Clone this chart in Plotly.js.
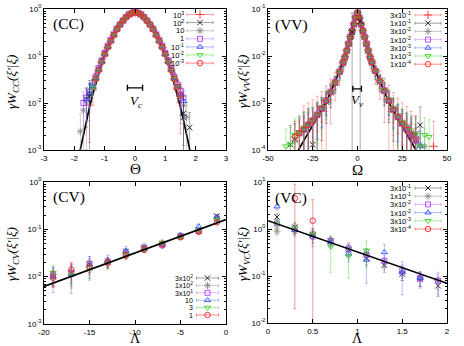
<!DOCTYPE html>
<html lang="en">
<head>
<meta charset="UTF-8">
<title>Transition densities CC / VV / CV / VC</title>
<script src="https://cdn.plot.ly/plotly-3.0.1.min.js"></script>
<style>
  html, body { margin: 0; padding: 0; background: #fff; }
  #chart { width: 464px; height: 346px; }
</style>
</head>
<body>
<div id="chart"></div>
<script>
// ---------- (CC) ----------
const thetaCC = [-1.8,-1.7,-1.6,-1.5,-1.4,-1.3,-1.2,-1.1,-1.0,-0.9,-0.8,-0.7,-0.6,-0.5,-0.4,-0.3,-0.2,-0.1,0,
                 0.1,0.2,0.3,0.4,0.5,0.6,0.7,0.8,0.9,1.0,1.1,1.2,1.3,1.4,1.5,1.6,1.7,1.8];
const cc_1e3  = [null,null,null,0.009,0.02,0.031,0.048,0.072,0.105,0.15,0.2,0.27,0.36,0.45,0.55,0.65,0.75,0.81,0.84,0.81,0.75,0.65,0.55,0.45,0.36,0.27,0.2,0.15,0.105,0.072,0.048,0.031,0.02,0.014,null,null,null];
const cc_1e2  = [null,null,0.012,0.016,0.023,0.034,0.052,0.078,0.112,0.158,0.215,0.285,0.375,0.465,0.565,0.67,0.77,0.83,0.86,0.83,0.77,0.67,0.565,0.465,0.375,0.285,0.215,0.158,0.112,0.078,0.052,0.034,0.022,0.014,0.005,null,0.003];
const cc_10   = [0.0025,0.007,0.01,0.015,0.021,0.032,0.05,0.074,0.108,0.152,0.205,0.275,0.365,0.455,0.555,0.655,0.755,0.815,0.845,0.815,0.755,0.655,0.555,0.455,0.365,0.275,0.205,0.152,0.108,0.074,0.05,0.032,0.021,0.013,0.009,0.005,null];
const cc_1    = [null,0.01,0.013,0.017,0.024,0.036,0.055,0.08,0.118,0.165,0.22,0.29,0.38,0.47,0.57,0.67,0.77,0.83,0.86,0.83,0.77,0.67,0.57,0.47,0.38,0.29,0.22,0.165,0.118,0.08,0.055,0.036,0.025,0.018,0.013,null,null];
const cc_1em1 = [null,null,0.012,0.016,0.023,0.034,0.051,0.076,0.11,0.155,0.21,0.28,0.37,0.46,0.56,0.66,0.76,0.82,0.85,0.82,0.76,0.66,0.56,0.46,0.37,0.28,0.21,0.155,0.11,0.076,0.051,0.034,0.023,0.016,0.011,null,null];
const cc_1em2 = [null,null,null,null,0.021,0.032,0.049,0.074,0.108,0.153,0.208,0.278,0.368,0.458,0.558,0.658,0.758,0.818,0.848,0.818,0.758,0.658,0.558,0.458,0.368,0.278,0.208,0.153,0.108,0.074,0.049,0.032,0.021,null,null,null,null];
const cc_1em3 = [null,null,null,null,null,0.033,0.05,0.075,0.11,0.155,0.21,0.28,0.37,0.46,0.56,0.66,0.76,0.82,0.85,0.82,0.76,0.66,0.56,0.46,0.37,0.28,0.21,0.155,0.11,0.075,0.05,0.033,0.022,0.015,null,null,null];
const ccRelErr = [1.1,0.9,0.75,0.6,0.35,0.28,0.22,0.18,0.14,0.12,0.1,0.09,0.08,0.07,0.06,0.06,0.05,0.05,0.05,
                  0.05,0.05,0.06,0.06,0.07,0.08,0.09,0.1,0.12,0.14,0.18,0.22,0.28,0.35,0.6,0.75,0.9,1.1];
const ccErrFactor = [1.4,1.0,1.2,0.8,0.9,0.8,0.7];
const ccLabels = ['10<sup>3</sup>','10<sup>2</sup>','10','1','10<sup>-1</sup>','10<sup>-2</sup>','10<sup>-3</sup>'];
const ccWideX = [-1.5, 1.6], ccWideY = [0.014, 0.006], ccWideErr = [0.016, 0.008];
const ccCurveX = [-1.85,-1.8,-1.7,-1.6,-1.5,-1.4,-1.3,-1.2,-1.1,-1.0,-0.9,-0.8,-0.7,-0.6,-0.5,-0.4,-0.3,-0.2,-0.1,0,
                  0.1,0.2,0.3,0.4,0.5,0.6,0.7,0.8,0.9,1.0,1.1,1.2,1.3,1.4,1.5,1.6,1.7,1.8,1.85];
const ccCurveY = [0.00074,0.00107,0.0022,0.0043,0.0081,0.0146,0.0254,0.0424,0.068,0.104,0.153,0.217,0.294,0.384,0.48,0.578,0.666,0.738,0.784,0.8,
                  0.784,0.738,0.666,0.578,0.48,0.384,0.294,0.217,0.153,0.104,0.068,0.0424,0.0254,0.0146,0.0081,0.0043,0.0022,0.00107,0.00074];
const vcBarX = [0], vcBarHalf = [0.25], vcBarY = [0.021];

// ---------- (VV) ----------
const omegaVV = [-40,-37.5,-35,-32.5,-30,-27.5,-25,-22.5,-20,-17.5,-15,-12.5,-10,-8,-7,-6,-5,-4,-3,-2,-1,0,
                 1,2,3,4,5,6,7,8,10,12.5,15,17.5,20,22.5,25,27.5,30,32.5,35,37.5,40,42.5];
const vv_3e1 = [null,null,null,null,2.9e-4,3.6e-4,4.5e-4,5.8e-4,8e-4,1.15e-3,1.8e-3,2.8e-3,4.8e-3,7.6e-3,9.8e-3,0.0135,0.019,0.026,0.035,0.049,0.067,0.084,0.066,0.048,0.035,0.026,0.019,0.0135,0.0098,0.0077,0.005,0.003,0.0019,0.0012,7.6e-4,5.3e-4,3.9e-4,3e-4,2.2e-4,1.8e-4,null,null,null,1.2e-4];
const vv_1e1 = [null,1.3e-4,1.7e-4,2.3e-4,2.8e-4,3.5e-4,1.3e-4,5.4e-4,7.3e-4,1.05e-3,1.65e-3,2.6e-3,4.5e-3,7.1e-3,9.2e-3,0.0128,0.018,0.025,0.033,0.046,0.064,0.081,0.064,0.046,0.033,0.025,0.018,0.0128,0.0092,0.0073,0.0047,0.0028,0.0018,0.0011,7e-4,4.9e-4,3.6e-4,2.8e-4,2.2e-4,2.2e-4,3.4e-4,null,null,null];
const vv_3e2 = [null,null,1.6e-4,2.1e-4,2.6e-4,3.3e-4,4.1e-4,5.5e-4,7.6e-4,1.1e-3,1.7e-3,2.7e-3,4.6e-3,7.4e-3,9.4e-3,0.013,0.018,0.025,0.034,0.047,0.065,0.083,0.065,0.047,0.034,0.025,0.018,0.013,0.0095,0.0075,0.0048,0.0029,0.0018,0.0011,7.3e-4,5.1e-4,3.7e-4,2.8e-4,2.1e-4,1.6e-4,1.3e-4,1.2e-4,null,null];
const vv_1e2 = [null,null,null,2.3e-4,2.8e-4,3.5e-4,4.3e-4,5.7e-4,7.8e-4,1.15e-3,1.75e-3,2.8e-3,4.7e-3,7.5e-3,9.6e-3,0.0132,0.0185,0.026,0.035,0.048,0.066,0.084,0.066,0.048,0.035,0.026,0.0185,0.0132,0.0096,0.0076,0.0049,0.003,0.0019,0.00115,7.5e-4,5.2e-4,3.8e-4,2.9e-4,2.2e-4,1.7e-4,null,null,null,null];
const vv_3e3 = [null,null,null,null,2.6e-4,3.3e-4,4.2e-4,5.5e-4,7.4e-4,1.08e-3,1.68e-3,2.65e-3,4.5e-3,7.2e-3,9.3e-3,0.0129,0.018,0.025,0.034,0.047,0.065,0.082,0.065,0.047,0.034,0.025,0.018,0.0129,0.0093,0.0074,0.0047,0.0029,0.0018,0.0011,7.1e-4,4.9e-4,3.6e-4,2.7e-4,2e-4,1.5e-4,1.2e-4,null,null,null];
const vv_1e3 = [1.2e-4,1.3e-4,2.1e-4,2.4e-4,3e-4,3.6e-4,4.4e-4,5.9e-4,8.1e-4,1.15e-3,1.75e-3,2.75e-3,4.7e-3,7.4e-3,9.5e-3,0.013,0.0182,0.0255,0.0345,0.0475,0.066,0.083,0.066,0.0475,0.0345,0.0255,0.0182,0.013,0.0095,0.0075,0.0049,0.003,0.0019,0.0012,7.8e-4,5.4e-4,4e-4,3.2e-4,2.6e-4,2.1e-4,1.2e-4,2.1e-4,1.9e-4,null];
const vv_1e4 = [null,null,1.9e-4,2.3e-4,2.7e-4,3.4e-4,4.2e-4,5.6e-4,7.6e-4,1.1e-3,1.7e-3,2.7e-3,4.6e-3,7.3e-3,9.4e-3,0.013,0.018,0.025,0.034,0.047,0.065,0.083,0.065,0.047,0.034,0.025,0.018,0.013,0.0094,0.0074,0.0048,0.0029,0.0018,0.0011,7.2e-4,5e-4,3.6e-4,2.7e-4,2e-4,1.6e-4,null,null,null,null];
const vvRelErr = [1.2,1.2,1.1,1.0,1.0,0.9,0.8,0.7,0.6,0.5,0.4,0.3,0.25,0.2,0.18,0.15,0.12,0.1,0.08,0.07,0.06,0.05,
                  0.06,0.07,0.08,0.1,0.12,0.15,0.18,0.2,0.25,0.3,0.4,0.5,0.6,0.7,0.8,0.9,1.0,1.0,1.1,1.2,1.2,1.2];
const vvErrFactor = [2.0,1.3,1.2,1.0,1.0,1.1,0.8];
const vvLabels = ['3x10<sup>-1</sup>','1x10<sup>-1</sup>','3x10<sup>-2</sup>','1x10<sup>-2</sup>','3x10<sup>-3</sup>','1x10<sup>-3</sup>','1x10<sup>-4</sup>'];
const vvWideX = [-3, 1.5], vvWideY = [0.032, 0.055], vvWideErr = [0.05, 0.07];
const vvCurveX = [-35,-34,-30,-25,-20,-17.5,-15,-12.5,-10,-8,-6.5,-5,-4,-3,-2,-1,-0.5,0,0.5,1,2,3,4,5,6.5,8,10,12.5,15,17.5,20,25,30,34,35];
const vvCurveY = [7e-5,8.5e-5,1.58e-4,3.3e-4,6.8e-4,1.05e-3,1.7e-3,2.8e-3,4.8e-3,7.5e-3,0.011,0.018,0.025,0.034,0.047,0.065,0.076,0.085,
                  0.076,0.065,0.047,0.034,0.025,0.018,0.011,7.5e-3,4.8e-3,2.8e-3,1.7e-3,1.05e-3,6.8e-4,3.3e-4,1.58e-4,8.5e-5,7e-5];
const vvBarX = [-0.2], vvBarHalf = [2.4], vvBarY = [0.002];

// ---------- (CV) ----------
const lambdaCV = [-19,-17,-15,-13,-11,-9,-7,-5,-3,-1];
const cv_3e2 = [0.010,0.012,0.018,0.021,0.034,0.041,0.049,0.072,0.093,0.19];
const cv_1e2 = [0.011,0.013,0.014,0.020,0.031,0.043,0.051,0.070,0.090,0.17];
const cv_3e1 = [0.011,0.012,0.019,0.020,0.031,0.040,0.047,0.071,0.094,0.17];
const cv_10  = [0.010,0.011,0.018,0.022,0.035,0.039,0.048,0.075,0.115,0.18];
const cv_3   = [0.012,0.011,0.015,0.019,0.029,0.038,0.052,0.069,0.095,0.16];
const cv_1   = [0.0095,0.014,0.016,0.020,0.028,0.037,0.048,0.068,0.088,0.14];
const cvRelErr = [0.45,0.5,0.4,0.25,0.2,0.15,0.15,0.12,0.1,0.1];
const cvErrFactor = [0.8,1.0,1.0,1.2,1.0,0.8];
const cvLabels = ['3x10<sup>2</sup>','1x10<sup>2</sup>','3x10<sup>1</sup>','10','3','1'];
const cvLineX = [-20, 0], cvLineY = [0.0062, 0.16];

// ---------- (VC) ----------
const lambdaVC = [0.1,0.3,0.5,0.7,0.9,1.1,1.3,1.5,1.7,1.9];
const vc_3e1 = [1.8,1.1,0.75,0.55,0.36,0.24,0.17,0.11,0.085,0.062];
const vc_1e1 = [0.9,0.9,0.8,0.56,0.4,0.3,0.19,0.12,0.09,0.08];
const vc_3e2 = [1.3,1.0,0.7,0.55,0.38,0.28,0.21,0.13,0.09,0.08];
const vc_1e2 = [3.0,0.95,0.72,0.52,0.30,0.22,0.32,0.12,0.09,null];
const vc_3e3 = [1.3,1.05,0.75,0.42,0.26,0.35,null,null,null,null];
const vc_3e4 = [null,4.5,1.5,null,null,null,null,null,null,null];
const vcErr_3e1 = [0.3,0.25,0.15,0.1,0.1,0.07,0.05,0.03,0.025,0.025];
const vcErr_1e1 = [0.15,0.2,0.2,0.12,0.12,0.08,0.05,0.04,0.03,0.03];
const vcErr_3e2 = [0.25,0.2,0.2,0.12,0.1,0.08,0.06,0.04,0.035,0.04];
const vcErr_1e2 = [0.5,0.2,0.3,0.12,0.1,0.15,0.15,0.08,0.03,null];
const vcErr_3e3 = [0.3,0.25,0.25,0.3,0.17,0.2,null,null,null,null];
const vcErr_3e4 = [null,4.48,2.7,null,null,null,null,null,null,null];
const vcLabels = ['3x10<sup>-1</sup>','1x10<sup>-1</sup>','3x10<sup>-2</sup>','1x10<sup>-2</sup>','3x10<sup>-3</sup>','3x10<sup>-4</sup>'];
const vcLineX = [0, 2], vcLineY = [1.5, 0.07];

// ---------- styles ----------
const W = 464, H = 346;
const markColors = ['#ff2a2a','#111111','#8a8a8a','#b040ff','#3050ff','#3cd020','#ff2020'];
const errColors = ['rgba(255,70,70,0.6)','rgba(40,40,40,0.55)','rgba(140,140,140,0.6)','rgba(176,64,255,0.5)',
                   'rgba(48,80,255,0.5)','rgba(60,208,32,0.55)','rgba(255,40,40,0.7)'];
const symbols = ['cross-thin-open','x-thin-open','asterisk-open','square-open','triangle-up-open','triangle-down-open','circle-open'];
const symSize = [6,5.5,6,5,5.5,5.5,5.5];
const serif = 'Liberation Serif, Times New Roman, serif';
const sans = 'Liberation Sans, Arial, sans-serif';

const traces = [];
const annotations = [];

function marker(k) {
  return { symbol: symbols[k], size: symSize[k], color: markColors[k], line: { width: 0.9, color: markColors[k] } };
}

function series(xs, ys, errs, k, xa, ya) {
  traces.push({
    type: 'scatter', mode: 'markers', x: xs, y: ys, xaxis: xa, yaxis: ya,
    marker: marker(k),
    error_y: { type: 'data', array: errs, color: errColors[k], thickness: 0.7, width: 1.5 },
    showlegend: false, hoverinfo: 'skip'
  });
}

function relErrors(ys, rel, f) {
  return ys.map((v, i) => v == null ? null : v * rel[i] * f);
}

function curve(xs, ys, xa, ya) {
  traces.push({ type: 'scatter', mode: 'lines', x: xs, y: ys, xaxis: xa, yaxis: ya,
    line: { color: 'black', width: 1.7 }, showlegend: false, hoverinfo: 'skip' });
}

function scaleBar(xs, half, ys, xa, ya) {
  traces.push({ type: 'scatter', mode: 'markers', x: xs, y: ys, xaxis: xa, yaxis: ya,
    marker: { size: 1, color: 'rgba(0,0,0,0)' },
    error_x: { type: 'data', array: half, color: 'black', thickness: 1.4, width: 3 },
    showlegend: false, hoverinfo: 'skip' });
}

// (CC)
curve(ccCurveX, ccCurveY, 'x', 'y');
[cc_1e3, cc_1e2, cc_10, cc_1, cc_1em1, cc_1em2, cc_1em3].forEach((ys, k) =>
  series(thetaCC, ys, relErrors(ys, ccRelErr, ccErrFactor[k]), k, 'x', 'y'));
series(ccWideX, ccWideY, ccWideErr, 1, 'x', 'y');
scaleBar(vcBarX, vcBarHalf, vcBarY, 'x', 'y');

// (VV)
curve(vvCurveX, vvCurveY, 'x2', 'y2');
[vv_3e1, vv_1e1, vv_3e2, vv_1e2, vv_3e3, vv_1e3, vv_1e4].forEach((ys, k) =>
  series(omegaVV, ys, relErrors(ys, vvRelErr, vvErrFactor[k]), k, 'x2', 'y2'));
series(vvWideX, vvWideY, vvWideErr, 1, 'x2', 'y2');
scaleBar(vvBarX, vvBarHalf, vvBarY, 'x2', 'y2');

// (CV)  symbols 1..6
[cv_3e2, cv_1e2, cv_3e1, cv_10, cv_3, cv_1].forEach((ys, j) =>
  series(lambdaCV, ys, relErrors(ys, cvRelErr, cvErrFactor[j]), j + 1, 'x3', 'y3'));
curve(cvLineX, cvLineY, 'x3', 'y3');

// (VC)  symbols 1..6
const vcSeries = [vc_3e1, vc_1e1, vc_3e2, vc_1e2, vc_3e3, vc_3e4];
const vcErrs = [vcErr_3e1, vcErr_1e1, vcErr_3e2, vcErr_1e2, vcErr_3e3, vcErr_3e4];
vcSeries.forEach((ys, j) => series(lambdaVC, ys, vcErrs[j], j + 1, 'x4', 'y4'));
curve(vcLineX, vcLineY, 'x4', 'y4');

// ---------- legends (drawn on a pixel overlay x5/y5) ----------
function legend(labels, kinds, spec) {
  labels.forEach((lab, i) => {
    const k = kinds[i];
    const yy = spec.top + i * spec.step;
    traces.push({ type: 'scatter', mode: 'markers', x: [spec.cx], y: [yy], xaxis: 'x5', yaxis: 'y5',
      marker: marker(k),
      error_x: { type: 'constant', value: spec.half, color: errColors[k], thickness: 0.8, width: 1.5 },
      showlegend: false, hoverinfo: 'skip' });
    annotations.push({ xref: 'x5', yref: 'y5', x: spec.right, y: yy, xanchor: 'right', yanchor: 'middle',
      text: lab, showarrow: false, borderpad: 0, font: { family: sans, size: spec.font, color: 'black' } });
  });
}
legend(ccLabels, [0,1,2,3,4,5,6], { right: 185, cx: 200, half: 13, top: 14.5, step: 8.1, font: 7.5 });
legend(vvLabels, [0,1,2,3,4,5,6], { right: 412, cx: 428, half: 13, top: 15, step: 8.2, font: 7.5 });
legend(cvLabels, [1,2,3,4,5,6], { right: 194, cx: 207.5, half: 11, top: 278, step: 7.4, font: 7 });
legend(vcLabels, [1,2,3,4,5,6], { right: 412, cx: 428, half: 13, top: 188, step: 8.2, font: 7.5 });

// ---------- text ----------
function label(x, y, text, size, extra) {
  annotations.push(Object.assign({ xref: 'x5', yref: 'y5', x: x, y: y, text: text, showarrow: false,
    borderpad: 0, font: { family: serif, size: size, color: 'black' } }, extra || {}));
}
label(52, 24, '(CC)', 15.5, { xanchor: 'left' });
label(274, 25, '(VV)', 15.5, { xanchor: 'left' });
label(52, 197, '(CV)', 15.5, { xanchor: 'left' });
label(274, 198, '(VC)', 15.5, { xanchor: 'left' });
label(135, 169, 'Θ', 15);
label(357.5, 170, 'Ω', 15);
label(135, 338, 'Λ', 14);
label(357.5, 338, 'Λ', 14);
label(12, 82, '<i>γW<sub>CC</sub>(ξ′|ξ)</i>', 13, { textangle: -90 });
label(243, 82, '<i>γW<sub>VV</sub>(ξ′|ξ)</i>', 13, { textangle: -90 });
label(12, 254, '<i>γW<sub>CV</sub>(ξ′|ξ)</i>', 13, { textangle: -90 });
label(243, 254, '<i>γW<sub>VC</sub>(ξ′|ξ)</i>', 13, { textangle: -90 });
label(136, 101, '<i>V<sub>c</sub></i>', 13);
label(357, 100, '<i>V<sub>v</sub></i>', 13);

// ---------- axes ----------
function minorLog(lo, hi) {
  const out = [];
  for (let e = lo; e < hi; e++) for (let m = 2; m <= 9; m++) out.push(m * Math.pow(10, e));
  return out;
}
function frame(extra) {
  return Object.assign({
    showline: true, linecolor: 'black', linewidth: 1, mirror: 'allticks',
    ticks: 'inside', ticklen: 4, tickwidth: 1, tickcolor: 'black',
    showgrid: false, zeroline: false, fixedrange: true,
    tickfont: { family: sans, size: 8, color: 'black' }
  }, extra);
}
function xAxis(l, r, anchor, range, vals, text) {
  return frame({ domain: [l / W, r / W], anchor: anchor, range: range, tickmode: 'array', tickvals: vals, ticktext: text });
}
function yAxis(t, b, anchor, lo, hi) {
  const vals = [], text = [];
  for (let e = lo; e <= hi; e++) { vals.push(Math.pow(10, e)); text.push('10<sup>' + e + '</sup>'); }
  return frame({ domain: [1 - b / H, 1 - t / H], anchor: anchor, type: 'log', range: [lo, hi],
    tickmode: 'array', tickvals: vals, ticktext: text,
    minor: { ticks: 'inside', ticklen: 2, tickcolor: 'black', tickwidth: 1, tickmode: 'array', tickvals: minorLog(lo, hi) } });
}

const layout = {
  width: W, height: H,
  margin: { l: 0, r: 0, t: 0, b: 0 },
  paper_bgcolor: 'white', plot_bgcolor: 'rgba(0,0,0,0)',
  font: { family: sans, size: 8, color: 'black' },
  showlegend: false, hovermode: false,
  xaxis:  xAxis(44, 226, 'y',  [-3, 3],   [-3,-2,-1,0,1,2,3], ['-3','-2','-1','0','1','2','3']),
  yaxis:  yAxis(9, 150, 'x', -3, 0),
  xaxis2: xAxis(268, 447, 'y2', [-50, 50], [-50,-25,0,25,50], ['-50','-25','0','25','50']),
  yaxis2: yAxis(9, 150, 'x2', -4, -1),
  xaxis3: xAxis(44, 226, 'y3', [-20, 0],  [-20,-15,-10,-5,0], ['-20','-15','-10','-5','0']),
  yaxis3: yAxis(182, 324, 'x3', -3, 0),
  xaxis4: xAxis(268, 447, 'y4', [0, 2],   [0,0.5,1,1.5,2], ['0','0.5','1','1.5','2']),
  yaxis4: yAxis(182, 323, 'x4', -2, 1),
  xaxis5: { domain: [0, 1], anchor: 'y5', range: [0, W], autorange: false, visible: false, fixedrange: true },
  yaxis5: { domain: [0, 1], anchor: 'x5', range: [H, 0], autorange: false, visible: false, fixedrange: true },
  annotations: annotations
};

Plotly.newPlot('chart', traces, layout, { staticPlot: true, displayModeBar: false });
</script>
</body>
</html>
